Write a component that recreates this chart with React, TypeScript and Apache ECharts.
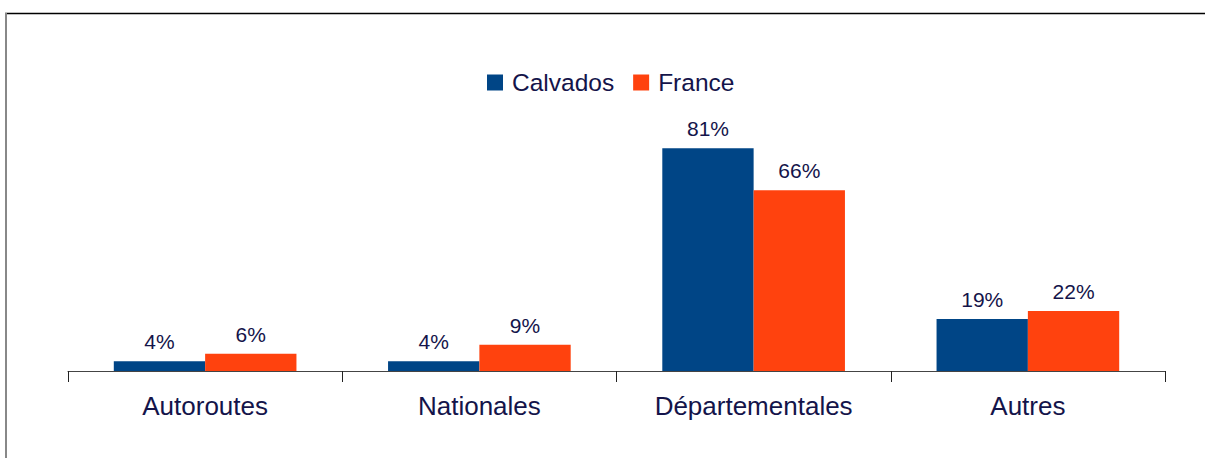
import React, { useEffect, useRef } from "react";
import * as echarts from "echarts";

const categories = ["Autoroutes", "Nationales", "Départementales", "Autres"];
const seriesNames = ["Calvados", "France"];
const calvadosValues = [3.6, 3.6, 81.3, 19];
const franceValues = [6.3, 9.6, 66, 21.9];
const calvadosLabels = ["4%", "4%", "81%", "19%"];
const franceLabels = ["6%", "9%", "66%", "22%"];

const TEXT = "#14144a";
const FONT = "'Liberation Sans', Arial, sans-serif";

export default function App() {
  const ref = useRef<HTMLDivElement>(null);
  useEffect(() => {
    if (!ref.current) return;
    const chart = echarts.init(ref.current, undefined, { renderer: "svg" });
    const labelCfg = (labels: string[]) => ({
      show: true,
      position: "top",
      distance: 9,
      fontSize: 21,
      fontFamily: FONT,
      color: TEXT,
      formatter: (p: any) => labels[p.dataIndex],
    });
    chart.setOption({
      animation: false,
      backgroundColor: "#ffffff",
      textStyle: { fontFamily: FONT },
      legend: {
        left: 487,
        top: 70,
        padding: 0,
        itemWidth: 16,
        itemHeight: 16,
        itemGap: 19,
        icon: "rect",
        data: seriesNames,
        textStyle: {
          fontSize: 24.5,
          fontFamily: FONT,
          color: TEXT,
          lineHeight: 24,
          padding: [0, 0, 0, 4],
        },
      },
      grid: { left: 68, right: 40, top: 97, bottom: 87, containLabel: false },
      xAxis: {
        type: "category",
        data: categories,
        axisLine: { show: true, lineStyle: { color: "#444444", width: 1 } },
        axisTick: { show: true, length: 11, lineStyle: { color: "#222222", width: 1 } },
        axisLabel: {
          fontSize: 26,
          fontFamily: FONT,
          color: TEXT,
          margin: 22,
          interval: 0,
        },
      },
      yAxis: {
        type: "value",
        min: 0,
        max: 100,
        show: false,
        splitLine: { show: false },
      },
      series: [
        {
          name: seriesNames[0],
          type: "bar",
          data: calvadosValues,
          itemStyle: { color: "#004586" },
          barGap: "0%",
          barCategoryGap: "33.4%",
          label: labelCfg(calvadosLabels),
        },
        {
          name: seriesNames[1],
          type: "bar",
          data: franceValues,
          itemStyle: { color: "#ff420e" },
          barGap: "0%",
          barCategoryGap: "33.4%",
          label: labelCfg(franceLabels),
        },
      ],
      graphic: [
        {
          type: "line",
          shape: { x1: 5, y1: 13.5, x2: 1205, y2: 13.5 },
          style: { stroke: "#000000", lineWidth: 1.5 },
        },
        {
          type: "line",
          shape: { x1: 6, y1: 13, x2: 6, y2: 458 },
          style: { stroke: "#888888", lineWidth: 2 },
        },
      ],
    });
    return () => chart.dispose();
  }, []);
  return (
    <div
      ref={ref}
      style={{ position: "fixed", left: 0, top: 0, width: 1205, height: 458 }}
    />
  );
}
